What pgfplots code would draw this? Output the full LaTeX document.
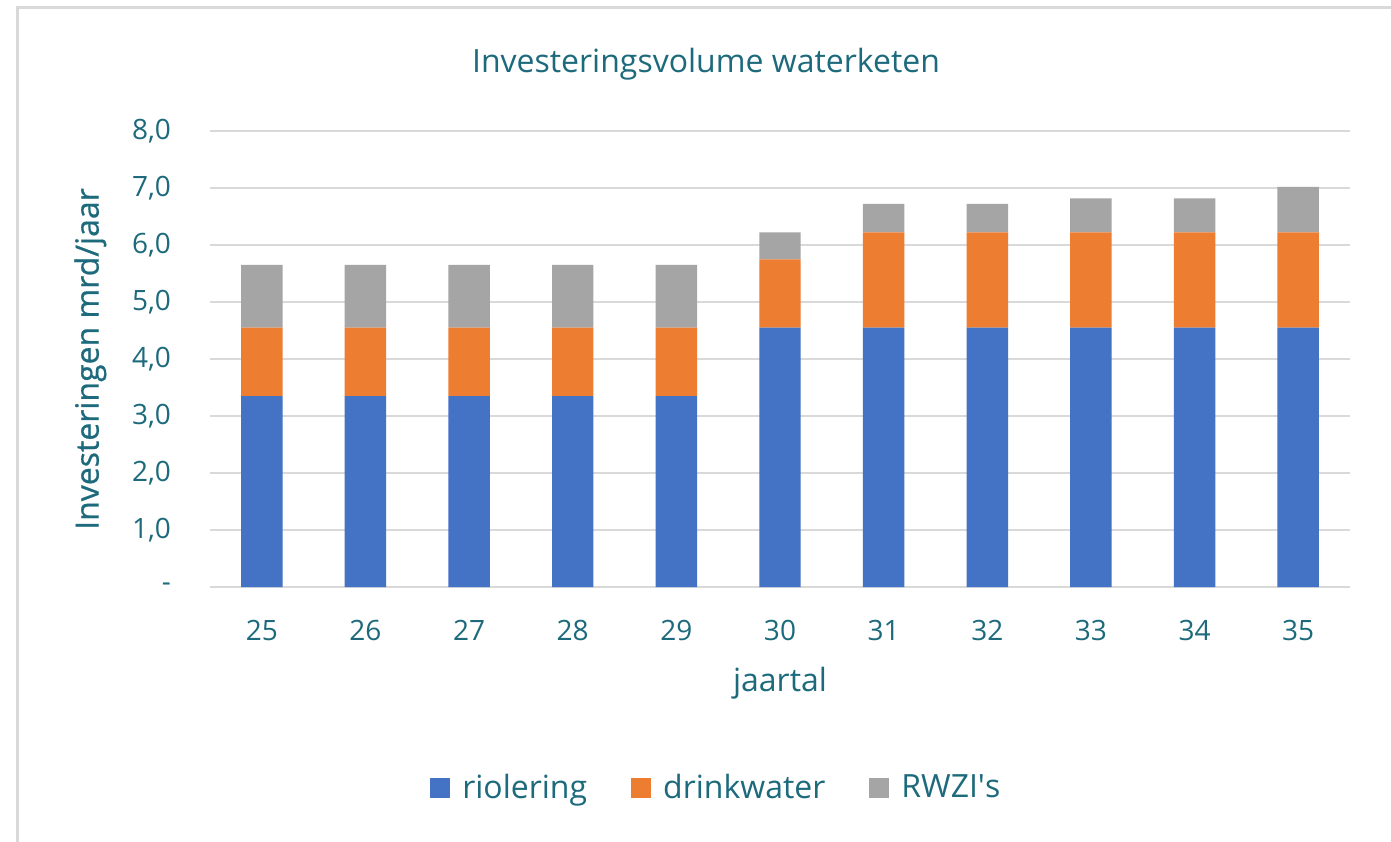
\documentclass[border=0pt]{standalone}
\usepackage{fontspec}
\setmainfont{Open Sans}
\newfontfamily\labfont{Open Sans}[FakeBold=0.6]
\usepackage{pgfplots}
\pgfplotsset{compat=1.18}
\definecolor{txt}{HTML}{1D6A7C}
\definecolor{grd}{HTML}{D9D9D9}
\definecolor{cblue}{HTML}{4472C4}
\definecolor{corange}{HTML}{ED7D31}
\definecolor{cgray}{HTML}{A5A5A5}
\begin{document}
\begin{tikzpicture}
\path[use as bounding box] (0,0) rectangle (695.5pt,420.5pt);
\fill[white] (0,0) rectangle (695.5pt,420.5pt);
\draw[grd, line width=1.5pt] (8.5pt,-2pt) -- (8.5pt,416.5pt) -- (697pt,416.5pt);
\node[txt, font=\fontsize{16}{18}\selectfont] at (353pt,388.5pt) {Investeringsvolume waterketen};
\begin{axis}[
  scale only axis,
  width=570pt, height=228pt,
  at={(105pt,127pt)}, anchor=south west,
  ybar stacked, bar width=0.4,
  xmin=24.5, xmax=35.5,
  ymin=0, ymax=8,
  axis line style={draw=none},
  major tick length=0pt,
  ymajorgrids, grid style={grd, line width=1pt},
  xtick={25,26,27,28,29,30,31,32,33,34,35},
  xticklabels={25,26,27,28,29,30,31,32,33,34,35},
  ytick={0,1,2,3,4,5,6,7,8},
  yticklabels={-,{1,0},{2,0},{3,0},{4,0},{5,0},{6,0},{7,0},{8,0}},
  ticklabel style={txt, font=\fontsize{14}{16}\selectfont},
  yticklabel style={xshift=-16pt},
  xticklabel style={yshift=-13pt},
  xlabel={jaartal},
  ylabel={\labfont Investeringen mrd/jaar},
  xlabel style={txt, font=\fontsize{16}{18}\selectfont, at={(rel axis cs:0.5,-0.21)}, anchor=center},
  ylabel style={txt, font=\fontsize{16}{18}\selectfont, at={(rel axis cs:-0.105,0.5)}, anchor=center, rotate=0},
  legend columns=3,
  legend style={draw=none, fill=none, at={(0.445,-0.44)}, anchor=center,
    font=\fontsize{16}{18}\selectfont, text=txt,
    /tikz/every odd column/.append style={column sep=4pt},
    /tikz/every even column/.append style={column sep=20pt}},
  legend image code/.code={\fill[#1] (0pt,-5pt) rectangle (10pt,5pt);},
]
\addplot[fill=cblue, draw=none] coordinates {(25,3.35) (26,3.35) (27,3.35) (28,3.35) (29,3.35) (30,4.55) (31,4.55) (32,4.55) (33,4.55) (34,4.55) (35,4.55)};
\addplot[fill=corange, draw=none] coordinates {(25,1.2) (26,1.2) (27,1.2) (28,1.2) (29,1.2) (30,1.2) (31,1.67) (32,1.67) (33,1.67) (34,1.67) (35,1.67)};
\addplot[fill=cgray, draw=none] coordinates {(25,1.1) (26,1.1) (27,1.1) (28,1.1) (29,1.1) (30,0.47) (31,0.5) (32,0.5) (33,0.6) (34,0.6) (35,0.8)};
\legend{riolering,drinkwater,RWZI\textquotesingle s}
\end{axis}
\end{tikzpicture}
\end{document}
